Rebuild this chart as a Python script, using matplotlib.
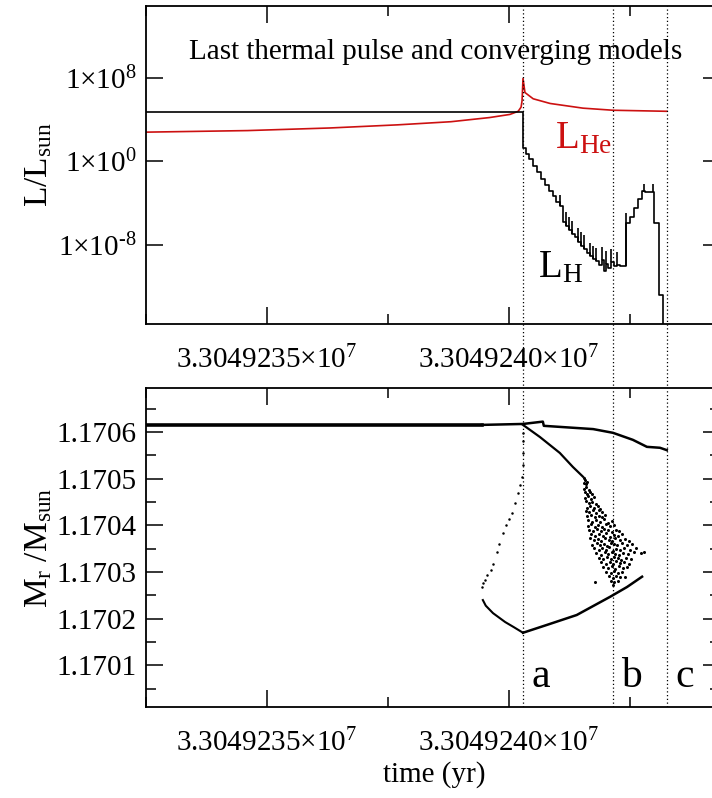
import numpy as np
import matplotlib.pyplot as plt
from matplotlib.ticker import FixedLocator, FuncFormatter, MultipleLocator, NullLocator

plt.rcParams['font.family'] = ['Liberation Serif', 'DejaVu Serif']
plt.rcParams['mathtext.default'] = 'regular'
plt.rcParams['axes.unicode_minus'] = False

T0 = 3.304923e7  # time offsets below are in yr after T0

# helium burning luminosity (log10 L/Lsun)
he_t = [2.50, 4.60, 6.30, 7.70, 8.80, 9.60, 10.02, 10.19, 10.25, 10.27, 10.29, 10.33, 10.50, 10.85, 11.53, 12.15, 13.26]
he_logL = [2.8, 2.95, 3.2, 3.5, 3.8, 4.2, 4.5, 4.8, 5.2, 5.8, 7.95, 6.6, 6.0, 5.55, 5.1, 4.9, 4.8]

# hydrogen burning luminosity, one value per model step
h_t = [2.50, 10.29, 10.35, 10.41, 10.50, 10.58, 10.66, 10.74, 10.83, 10.91, 10.97,
       11.05, 11.12, 11.18, 11.24, 11.30, 11.36, 11.43, 11.49, 11.55, 11.61, 11.67,
       11.74, 11.80, 11.86, 11.92, 11.96, 12.00, 12.05, 12.11, 12.17, 12.23, 12.29,
       12.42, 12.50, 12.58, 12.67, 12.75, 12.81, 13.00, 13.10, 13.18]
h_logL = [4.7, 1.3, 0.7, 0.2, -0.4, -1.0, -1.7, -2.3, -2.8, -3.3, -3.9,
          -4.3, -5.8, -6.2, -6.6, -7.0, -7.3, -7.7, -8.1, -8.4, -8.8, -9.1,
          -9.4, -9.6, -9.9, -9.5, -10.5, -9.8, -10.2, -9.7, -10.0, -9.9, -10.0,
          -5.9, -5.3, -4.5, -3.6, -2.8, -2.9, -5.9, -12.8, -20.0]
# short excursions of L_H between steps
spike_t = [11.05, 11.18, 11.24, 11.30, 11.43, 11.49, 11.55, 11.67, 11.74, 11.80, 11.92,
           12.00, 12.11, 12.23, 12.42, 12.79, 12.97]
spike_lo = [-4.3, -6.2, -6.6, -7.0, -7.7, -8.1, -8.4, -9.1, -9.4, -9.6, -9.5,
            -9.8, -9.7, -9.9, -10.0, -2.9, -2.9]
spike_hi = [-3.2, -4.9, -5.3, -5.7, -6.4, -6.8, -7.1, -7.8, -8.1, -8.3, -8.2,
            -8.6, -8.4, -8.7, -5.0, -2.2, -2.2]

# mass coordinates (Msun)
outer_t = [2.50, 9.44]
outer_m = [1.170615, 1.170615]
upper_t = [9.44, 10.29, 10.70, 10.72, 11.74, 12.15, 12.56, 12.85, 13.12, 13.26]
upper_m = [1.170615, 1.170617, 1.170622, 1.170613, 1.170606, 1.170598, 1.170583, 1.170568, 1.170566, 1.170561]
mid_t = [10.29, 10.64, 11.05, 11.32, 11.53]
mid_m = [1.170615, 1.170589, 1.170555, 1.170525, 1.170504]
lower_t = [10.29, 10.79, 11.40, 12.09, 12.44, 12.75]
lower_m = [1.170170, 1.170187, 1.170208, 1.170247, 1.170268, 1.170290]
left_t = [10.29, 10.10, 9.92, 9.67, 9.52, 9.46]
left_m = [1.170170, 1.170182, 1.170193, 1.170212, 1.170228, 1.170240]
dots_t = [9.44, 9.47, 9.50, 9.55, 9.62, 9.68, 9.75, 9.80, 9.88, 9.94, 10.00, 10.06, 10.12,
          10.19, 10.23, 10.27, 10.29, 10.29, 10.30, 10.29]
dots_m = [1.170268, 1.170276, 1.170283, 1.170294, 1.170305, 1.170318, 1.170343, 1.170360, 1.170384,
          1.170400, 1.170414, 1.170427, 1.170448, 1.170469, 1.170487, 1.170504, 1.170530,
          1.170555, 1.170580, 1.170598]
cloud_t = [11.54, 11.57,
           11.55, 11.59, 11.62,
           11.56, 11.60, 11.65,
           11.57, 11.62, 11.67, 11.71,
           11.58, 11.64, 11.69, 11.75,
           11.60, 11.66, 11.72, 11.79,
           11.61, 11.68, 11.75, 11.83, 11.88,
           11.59, 11.66, 11.73, 11.80, 11.87, 11.93,
           11.62, 11.70, 11.77, 11.85, 11.92, 11.99,
           11.64, 11.72, 11.80, 11.88, 11.96, 12.05, 12.12,
           11.63, 11.69, 11.77, 11.84, 11.92, 12.00, 12.08, 12.17,
           11.66, 11.74, 11.82, 11.90, 11.97, 12.04, 12.12, 12.21, 12.28,
           11.70, 11.78, 11.86, 11.94, 12.01, 12.09, 12.16, 12.25, 12.34,
           11.68, 11.76, 11.84, 11.91, 11.99, 12.06, 12.13, 12.20, 12.29, 12.39, 12.47,
           11.72, 11.81, 11.89, 11.96, 12.03, 12.11, 12.18, 12.24, 12.33, 12.43, 12.55,
           11.75, 11.86, 11.93, 12.00, 12.07, 12.15, 12.22, 12.30, 12.38, 12.50, 12.63,
           11.80, 11.90, 11.98, 12.05, 12.12, 12.19, 12.27, 12.35, 12.45, 12.58, 12.72, 12.78,
           11.85, 11.95, 12.03, 12.10, 12.17, 12.25, 12.32, 12.41, 12.52,
           11.90, 12.00, 12.08, 12.15, 12.22, 12.30, 12.38, 12.47,
           11.95, 12.05, 12.13, 12.20, 12.27, 12.36, 12.44,
           12.01, 12.10, 12.18, 12.25, 12.33,
           12.06, 12.14, 12.22, 12.30, 12.40,
           12.10, 12.18, 12.26, 11.78,
           12.15]
cloud_m = [1.170502, 1.170497,
           1.170491, 1.170488, 1.170493,
           1.170478, 1.170483, 1.170476,
           1.170472, 1.170466, 1.170471, 1.170468,
           1.170459, 1.170463, 1.170457, 1.170461,
           1.170452, 1.170447, 1.170450, 1.170446,
           1.170438, 1.170442, 1.170437, 1.170441, 1.170436,
           1.170431, 1.170428, 1.170433, 1.170426, 1.170432, 1.170429,
           1.170419, 1.170423, 1.170417, 1.170421, 1.170418, 1.170422,
           1.170411, 1.170407, 1.170412, 1.170408, 1.170413, 1.170406, 1.170410,
           1.170398, 1.170402, 1.170397, 1.170401, 1.170396, 1.170403, 1.170399, 1.170401,
           1.170391, 1.170388, 1.170392, 1.170387, 1.170393, 1.170389, 1.170386, 1.170391, 1.170388,
           1.170381, 1.170377, 1.170382, 1.170378, 1.170383, 1.170376, 1.170380, 1.170377, 1.170382,
           1.170372, 1.170368, 1.170371, 1.170367, 1.170373, 1.170369, 1.170366, 1.170372, 1.170368, 1.170371, 1.170367,
           1.170358, 1.170362, 1.170357, 1.170361, 1.170356, 1.170363, 1.170359, 1.170357, 1.170362, 1.170358, 1.170361,
           1.170351, 1.170347, 1.170352, 1.170348, 1.170353, 1.170346, 1.170350, 1.170347, 1.170352, 1.170348, 1.170351,
           1.170341, 1.170337, 1.170342, 1.170338, 1.170343, 1.170339, 1.170336, 1.170341, 1.170338, 1.170342, 1.170340, 1.170343,
           1.170331, 1.170328, 1.170332, 1.170327, 1.170333, 1.170329, 1.170326, 1.170331, 1.170328,
           1.170321, 1.170318, 1.170322, 1.170317, 1.170323, 1.170319, 1.170322, 1.170318,
           1.170311, 1.170308, 1.170312, 1.170307, 1.170313, 1.170309, 1.170311,
           1.170301, 1.170298, 1.170302, 1.170297, 1.170300,
           1.170291, 1.170288, 1.170292, 1.170289, 1.170290,
           1.170281, 1.170278, 1.170280, 1.170279,
           1.170273]

event_t = [10.29, 12.15, 13.26]
event_lbl = ['a', 'b', 'c']

xticks_major = [5.0, 10.0]
xticks_minor = [2.5, 7.5, 12.5]
L_ticks = [1e-8, 1e0, 1e8]


def t(arr):
    return T0 + np.asarray(arr)


def pow_label(v, p):
    # plain hyphen for negative exponents
    e = str(round(np.log10(v))).replace('-', '\u2010')
    return r'$1{\times}10^{%s}$' % e


fig = plt.figure(figsize=(7.12, 7.98), dpi=100)
ax1 = fig.add_axes([0.2051, 0.594, 0.8061, 0.3985])
ax2 = fig.add_axes([0.2051, 0.114, 0.8061, 0.3998])

# --- luminosities ---
ax1.plot(t(he_t), 10.0 ** np.array(he_logL), color='#cc1111', lw=1.2)
ax1.step(t(h_t), 10.0 ** np.array(h_logL), where='post', color='k', lw=1.2)
ax1.vlines(t(spike_t), 10.0 ** np.array(spike_lo), 10.0 ** np.array(spike_hi), color='k', lw=1.2)
ax1.set_yscale('log')
ax1.set_ylim(10 ** -15.6, 10 ** 14.9)
ax1.yaxis.set_major_locator(FixedLocator(L_ticks))
ax1.yaxis.set_minor_locator(NullLocator())
ax1.yaxis.set_major_formatter(FuncFormatter(pow_label))
ax1.set_ylabel(r'L/L$_{sun}$', fontsize=24)
ax1.yaxis.set_label_coords(-0.16, 0.5)
ax1.text(0.505, 0.855, 'Last thermal pulse and converging models', transform=ax1.transAxes,
         ha='center', va='center', fontsize=21)
ax1.text(0.7125, 0.553, r'L$_{He}$', transform=ax1.transAxes, color='#cc1111', fontsize=28)
ax1.text(0.683, 0.148, r'L$_{H}$', transform=ax1.transAxes, color='k', fontsize=28)

# --- mass coordinates ---
ax2.plot(t(outer_t), outer_m, color='k', lw=2.6)
ax2.plot(t(upper_t), upper_m, color='k', lw=1.8)
ax2.plot(t(mid_t), mid_m, color='k', lw=1.6)
ax2.plot(t(lower_t), lower_m, color='k', lw=1.8)
ax2.plot(t(left_t), left_m, color='k', lw=1.5)
ax2.plot(t(dots_t), dots_m, 'o', color='k', ms=1.8, mew=0)
ax2.plot(t(cloud_t), cloud_m, 'o', color='k', ms=2.2, mew=0)
ax2.set_ylim(1.170011, 1.170694)
ax2.yaxis.set_major_locator(MultipleLocator(0.0001))
ax2.yaxis.set_minor_locator(MultipleLocator(0.00005))
ax2.yaxis.set_major_formatter(FuncFormatter(lambda v, p: '%.4f' % v))
ax2.set_ylabel(r'M$_r$ /M$_{sun}$', fontsize=24)
ax2.yaxis.set_label_coords(-0.16, 0.5)
ax2.set_xlabel('time (yr)', fontsize=21)
ax2.xaxis.set_label_coords(0.503, -0.17)

for ax in (ax1, ax2):
    ax.set_xlim(T0 + 2.5, T0 + 14.36)
    ax.xaxis.set_major_locator(FixedLocator(list(t(xticks_major))))
    ax.xaxis.set_minor_locator(FixedLocator(list(t(xticks_minor))))
    ax.xaxis.set_major_formatter(FuncFormatter(
        lambda v, p: r'$%.7f{\times}10^{7}$' % (v / 1e7)))
    ax.tick_params(which='both', direction='in', top=True, right=True, labelsize=21, width=1.1)
    ax.tick_params(which='major', length=12, pad=7)
    ax.tick_params(which='minor', length=7)
    ax.tick_params(axis='x', which='major', pad=16)
    for s in ax.spines.values():
        s.set_linewidth(1.3)

# event markers spanning both panels
for et, lbl in zip(event_t, event_lbl):
    ax1.axvline(T0 + et, ymin=-0.205, ymax=1.0, color='k', ls=(0, (1, 2)), lw=0.9, clip_on=False)
    ax2.axvline(T0 + et, color='k', ls=(0, (1, 2)), lw=0.9)
    ax2.annotate(lbl, xy=(T0 + et, 0.063), xycoords=('data', 'axes fraction'),
                 xytext=(6, 0), textcoords='offset points', fontsize=30, va='baseline')

fig.savefig('out.png', dpi=100)
